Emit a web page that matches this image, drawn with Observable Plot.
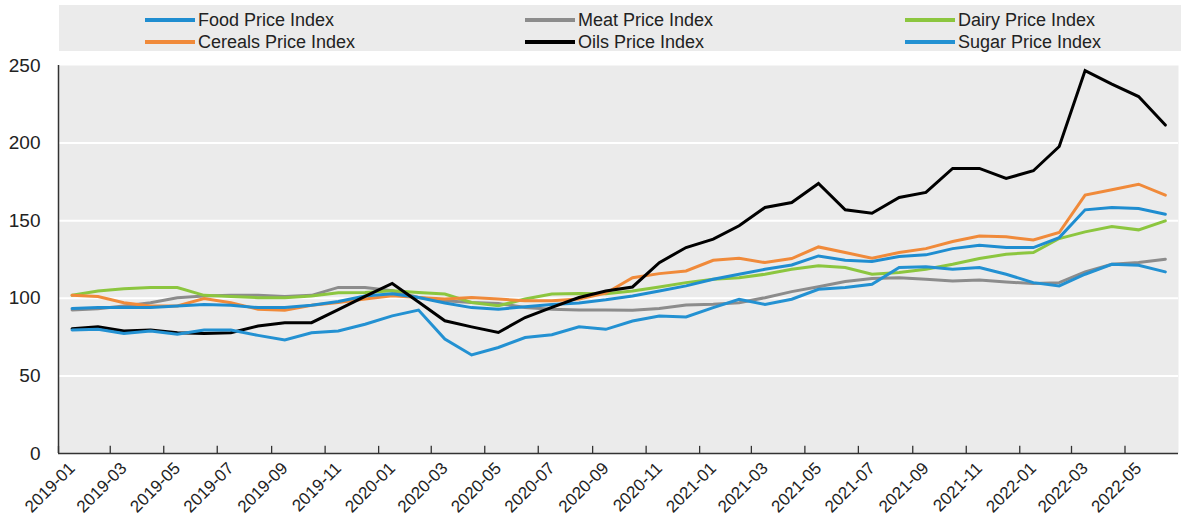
<!DOCTYPE html>
<html>
<head>
<meta charset="utf-8">
<script src="https://cdn.jsdelivr.net/npm/d3@7"></script>
<script src="https://cdn.jsdelivr.net/npm/@observablehq/plot@0.6"></script>
<style>
  body { margin: 0; background: #fff; font-family: "Liberation Sans", Arial, sans-serif; }
  #legend { position: relative; width: 1181px; height: 56px; }
  #legend .box { position: absolute; left: 59px; top: 5px; width: 1122px; height: 46px; background: #ebebeb; }
  #legend .item { position: absolute; display: flex; align-items: center; height: 22px; font-size: 18px; color: #222; white-space: nowrap; }
  #legend .sw { width: 50px; height: 4px; margin-right: 3px; }
</style>
</head>
<body>
<div id="legend"><div class="box"></div></div>
<div id="chart"></div>
<script>
const months = ["2019-01","2019-02","2019-03","2019-04","2019-05","2019-06","2019-07","2019-08","2019-09","2019-10","2019-11","2019-12",
  "2020-01","2020-02","2020-03","2020-04","2020-05","2020-06","2020-07","2020-08","2020-09","2020-10","2020-11","2020-12",
  "2021-01","2021-02","2021-03","2021-04","2021-05","2021-06","2021-07","2021-08","2021-09","2021-10","2021-11","2021-12",
  "2022-01","2022-02","2022-03","2022-04","2022-05","2022-06"];

const foodIndex = [93.5, 94, 94, 94, 95, 96, 95.5, 94, 94, 95.5, 98, 101.5,
  103, 100.5, 97, 94, 93, 94.5, 96, 97, 99, 101.5, 104.7, 108,
  112.3, 115.5, 118.7, 121.5, 127.3, 124.5, 123.7, 126.9, 128, 132, 134.2, 132.7,
  132.7, 139.1, 157, 158.5, 157.8, 154.2];
const meatIndex = [92.5, 93.3, 95.1, 97.2, 100.4, 101.5, 101.9, 101.9, 101.1, 101.9, 107, 107,
  104.8, 100.5, 98.4, 97.3, 96.7, 94.1, 93, 92.4, 92.5, 92.3, 93.5, 95.7,
  96.1, 97.2, 100.4, 104.3, 107.5, 110.8, 112.7, 113.3, 112.3, 111.2, 111.8, 110.5,
  109.5, 110.1, 117, 121.9, 123, 125.2];
const dairyIndex = [101.9, 104.7, 106.2, 106.9, 106.9, 101.9, 101.1, 100.4, 100.4, 101.5, 103.5, 103.8,
  104.8, 103.8, 102.7, 97.3, 95.2, 99.5, 102.7, 103.1, 103, 104.7, 107.3, 110.1,
  112.3, 113.3, 115.5, 118.7, 120.9, 119.8, 115.5, 116.6, 118.7, 121.9, 125.6, 128.4,
  129.5, 138.5, 142.8, 146.2, 144.1, 149.9];
const cerealsIndex = [101.9, 101.1, 97.2, 95.1, 95.1, 99.8, 97.2, 92.9, 92.3, 95.5, 97.3, 99.5,
  101.6, 100.5, 99.5, 100.5, 99.5, 98.4, 98.4, 99.5, 103.3, 113.3, 115.9, 117.6,
  124.5, 125.8, 123, 125.6, 133.1, 129.5, 125.8, 129.5, 132, 136.6, 140.2, 139.6,
  137.6, 142.4, 166.5, 169.9, 173.5, 166.5];
const oilsIndex = [80.4, 81.7, 78.9, 79.6, 77.8, 77.4, 77.8, 82.2, 84.3, 84.3, 92.7, 101.2,
  109.6, 97.6, 85.5, 81.6, 78, 87.6, 94.1, 100.5, 104.7, 107.3, 123, 132.7,
  138.1, 146.7, 158.5, 161.7, 174, 157, 154.8, 165, 168.2, 183.7, 183.7, 177.2,
  182.2, 197.8, 246.7, 238, 230, 211.6];
const sugarIndex = [79.6, 80, 77.4, 78.9, 76.8, 79.5, 79.5, 76.1, 73.1, 77.8, 79, 83.3,
  88.7, 92.4, 73.7, 63.5, 68.3, 74.7, 76.5, 81.6, 80, 85.4, 88.6, 88,
  94, 99.4, 96.1, 99.4, 105.8, 106.9, 109, 119.8, 120.4, 118.7, 119.8, 115.5,
  110.1, 108, 115.5, 121.9, 121.3, 117];

const seriesNames = ["Food Price Index", "Meat Price Index", "Dairy Price Index",
  "Cereals Price Index", "Oils Price Index", "Sugar Price Index"];
const seriesValues = [foodIndex, meatIndex, dairyIndex, cerealsIndex, oilsIndex, sugarIndex];
const seriesColors = ["#1f8dd0", "#8c8c8c", "#8cc63f", "#f08a3a", "#000000", "#2391d2"];
const drawOrder = [1, 2, 3, 0, 4, 5];

const xTickLabels = ["2019-01","2019-03","2019-05","2019-07","2019-09","2019-11","2020-01","2020-03","2020-05",
  "2020-07","2020-09","2020-11","2021-01","2021-03","2021-05","2021-07","2021-09","2021-11","2022-01","2022-03","2022-05"];
const yTicks = [0, 50, 100, 150, 200, 250];
const yGrid = [50, 100, 150, 200];

// legend (HTML, above the SVG)
const legendCols = [145, 525, 905];
const legendRows = [9, 31];
const legend = document.getElementById("legend");
seriesNames.forEach((name, i) => {
  const it = document.createElement("div");
  it.className = "item";
  it.style.left = legendCols[i % 3] + "px";
  it.style.top = legendRows[Math.floor(i / 3)] + "px";
  const sw = document.createElement("div");
  sw.className = "sw";
  sw.style.background = seriesColors[i];
  it.appendChild(sw);
  it.appendChild(document.createTextNode(name));
  legend.appendChild(it);
});

const parseMonth = d3.utcParse("%Y-%m");
const midMonth = (m) => { const a = parseMonth(m); const b = d3.utcMonth.offset(a, 1); return new Date((+a + +b) / 2); };

const data = drawOrder.flatMap(k => months.map((m, i) => ({
  series: seriesNames[k], date: midMonth(m), value: seriesValues[k][i], color: seriesColors[k]
})));

const labelDates = xTickLabels.map(midMonth);
const tickDates = xTickLabels.map(parseMonth);
const x0 = parseMonth(months[0]);
const x1 = d3.utcMonth.offset(parseMonth(months[months.length - 1]), 1);

const chart = Plot.plot({
  width: 1181,
  height: 465,
  marginTop: 9,
  marginBottom: 68,
  marginLeft: 58,
  marginRight: 3,
  style: { fontFamily: '"Liberation Sans", Arial, sans-serif', background: "white", color: "#222", overflow: "visible" },
  x: { type: "utc", domain: [x0, x1] },
  y: { domain: [0, 250] },
  marks: [
    Plot.frame({ fill: "#ebebeb", stroke: null }),
    Plot.ruleY(yGrid, { stroke: "white", strokeWidth: 2 }),
    Plot.axisY(yTicks, { tickSize: 0, tickPadding: 18, fontSize: 19, label: null }),
    Plot.axisX(labelDates, { tickSize: 0, tickPadding: 12, tickRotate: -45, fontSize: 17, label: null, tickFormat: d3.utcFormat("%Y-%m") }),
    ...drawOrder.map(k => Plot.line(data.filter(d => d.series === seriesNames[k]), {
      x: "date", y: "value", stroke: seriesColors[k], strokeWidth: 3, strokeLinejoin: "miter", strokeMiterlimit: 3
    })),
    Plot.ruleX(tickDates, { y1: 0, y2: 4.6, stroke: "#333", strokeWidth: 1.3 }),
    Plot.ruleY([0], { stroke: "#333", strokeWidth: 1.5 }),
    Plot.ruleX([x0], { y1: 0, y2: 250, stroke: "#333", strokeWidth: 1.5 })
  ]
});
document.getElementById("chart").appendChild(chart);
</script>
</body>
</html>
